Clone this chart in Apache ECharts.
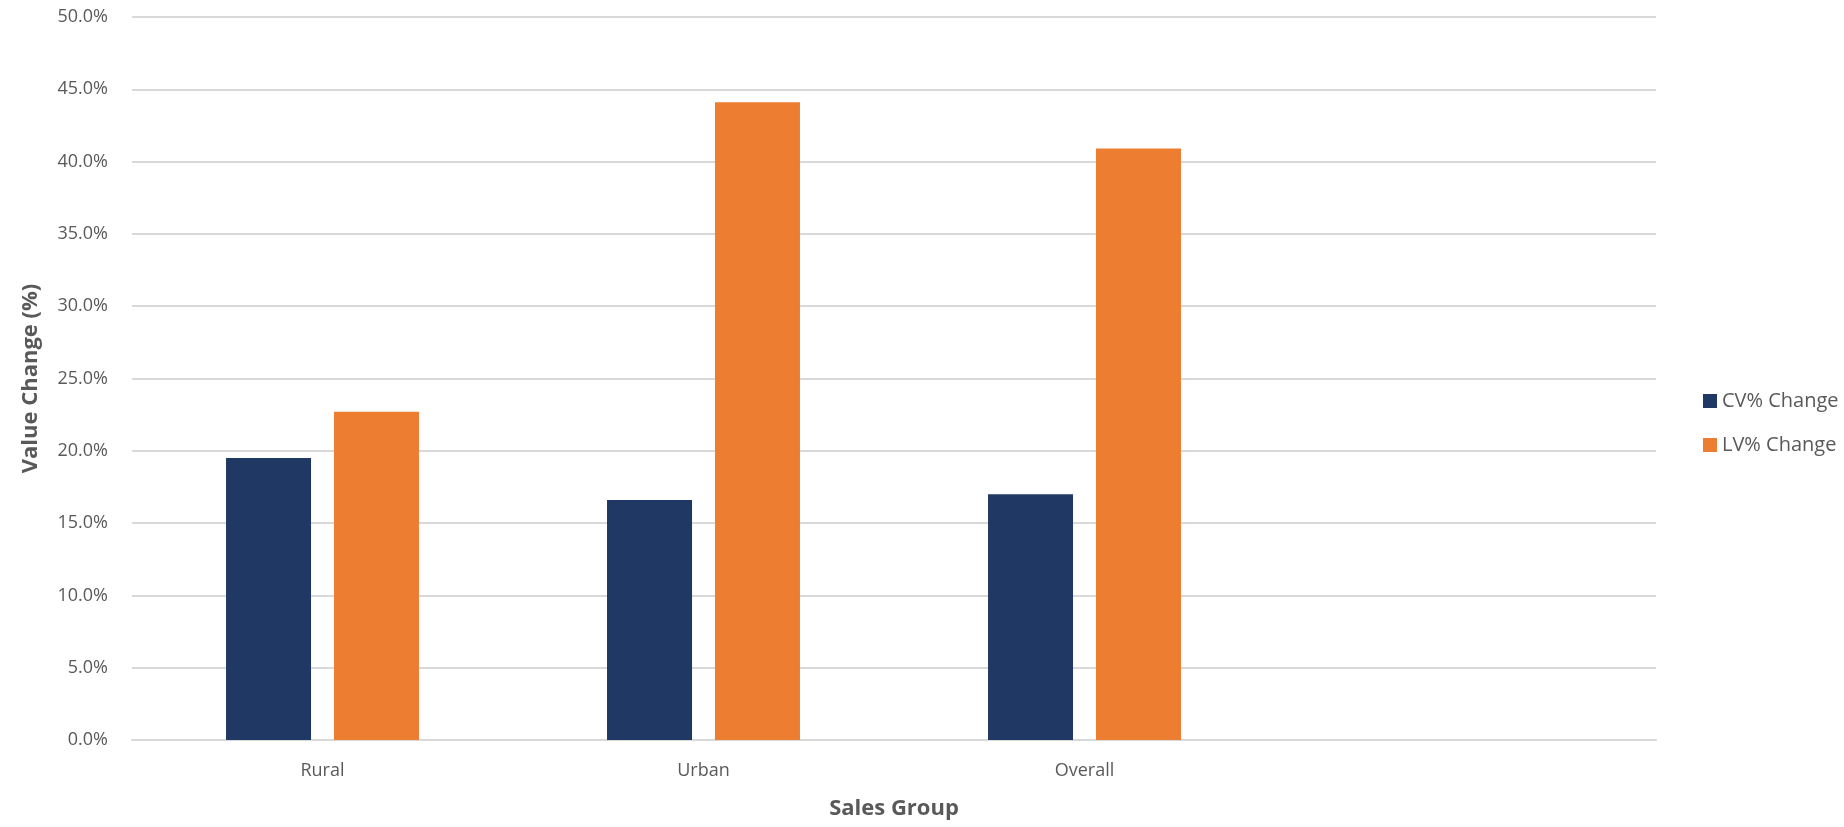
<!DOCTYPE html>
<html lang="en">
  <head>
    <meta charset="UTF-8" />
    <title>Value Change by Sales Group</title>
    <script src="https://cdn.jsdelivr.net/npm/echarts@6/dist/echarts.min.js"></script>
    <style>
      html, body { margin: 0; padding: 0; background: #fff; }
      #chart { width: 1844px; height: 827px; }
    </style>
  </head>
  <body>
    <div id="chart"></div>
    <script>
      // categories (4th slot is empty in the original chart)
      const groups = ["Rural", "Urban", "Overall", ""];
      // values in %
      const cvChange = [19.5, 16.6, 17.0, null];
      const lvChange = [22.7, 44.1, 40.9, null];
      const seriesNames = ["CV% Change", "LV% Change"];

      const textColor = "#595959";
      const font = "'Open Sans', sans-serif";

      const chart = echarts.init(document.getElementById("chart"));
      chart.setOption({
        animation: false,
        textStyle: { fontFamily: font },
        grid: { left: 132, right: 188, top: 17, bottom: 87 },
        legend: {
          orient: "vertical",
          left: 1698,
          top: 386,
          itemWidth: 14,
          itemHeight: 14,
          itemGap: 24,
          icon: "rect",
          textStyle: { color: textColor, fontSize: 20, fontFamily: font, lineHeight: 20 },
          data: seriesNames,
        },
        xAxis: {
          type: "category",
          data: groups,
          name: "Sales Group",
          nameLocation: "middle",
          nameGap: 58,
          nameTextStyle: { color: textColor, fontSize: 22, fontWeight: "bold", fontFamily: font },
          axisLine: { lineStyle: { color: "#d9d9d9", width: 2 } },
          axisTick: { show: false },
          axisLabel: { color: textColor, fontSize: 18, margin: 22, fontFamily: font },
        },
        yAxis: {
          type: "value",
          min: 0,
          max: 50,
          interval: 5,
          name: "Value Change (%)",
          nameLocation: "middle",
          nameGap: 90,
          nameTextStyle: { color: textColor, fontSize: 22, fontWeight: "bold", fontFamily: font },
          axisLabel: {
            color: textColor,
            fontSize: 18,
            margin: 24,
            fontFamily: font,
            formatter: (v) => v.toFixed(1) + "%",
          },
          splitLine: { lineStyle: { color: "#d9d9d9", width: 2 } },
        },
        series: [
          {
            name: seriesNames[0],
            type: "bar",
            data: cvChange,
            barWidth: 85,
            barGap: "27%",
            itemStyle: { color: "#203864" },
          },
          {
            name: seriesNames[1],
            type: "bar",
            data: lvChange,
            barWidth: 85,
            itemStyle: { color: "#ED7D31" },
          },
        ],
      });
    </script>
  </body>
</html>
